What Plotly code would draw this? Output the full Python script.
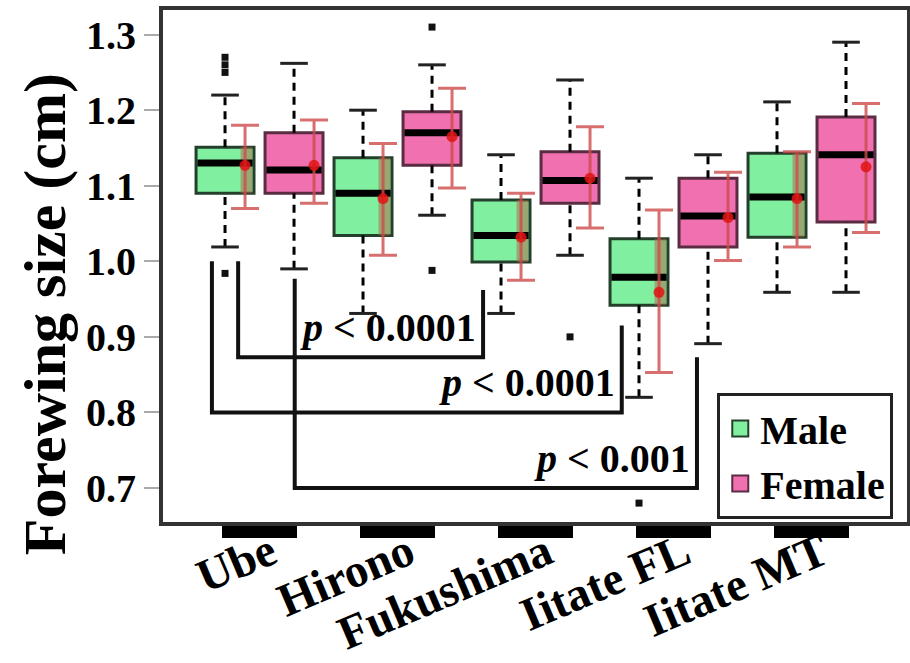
import plotly.graph_objects as go

# ---------------- data ----------------
groups = ["Ube", "Hirono", "Fukushima", "Iitate FL", "Iitate MT"]

male_lo   = [1.019, 0.931, 0.931, 0.820, 0.959]
male_q1   = [1.090, 1.034, 0.999, 0.942, 1.032]
male_med  = [1.130, 1.090, 1.034, 0.979, 1.085]
male_q3   = [1.151, 1.137, 1.081, 1.030, 1.143]
male_hi   = [1.220, 1.200, 1.141, 1.110, 1.211]
male_mean = [1.127, 1.083, 1.032, 0.959, 1.083]
male_etop = [1.180, 1.156, 1.090, 1.068, 1.145]
male_ebot = [1.070, 1.008, 0.975, 0.853, 1.019]
male_out  = [[1.27, 1.26, 1.25, 0.984], [], [], [0.68], []]

female_lo   = [0.990, 1.061, 1.008, 0.891, 0.959]
female_q1   = [1.090, 1.127, 1.077, 1.019, 1.052]
female_med  = [1.121, 1.170, 1.107, 1.060, 1.141]
female_q3   = [1.170, 1.198, 1.145, 1.110, 1.191]
female_hi   = [1.262, 1.260, 1.240, 1.141, 1.290]
female_mean = [1.127, 1.165, 1.110, 1.058, 1.125]
female_etop = [1.187, 1.229, 1.178, 1.118, 1.209]
female_ebot = [1.077, 1.097, 1.044, 1.001, 1.038]
female_out  = [[], [1.31, 0.988], [0.90], [], []]

# significance brackets (x in box-position units)
br_left      = [0.19, -0.19, 1.01]
br_right     = [3.74, 5.75, 6.84]
br_left_top  = [1.000, 1.000, 0.977]
br_right_top = [0.962, 0.915, 0.873]
br_level     = [0.873, 0.800, 0.700]
br_labels    = ["0.0001", "0.0001", "0.001"]

yticks = [0.7, 0.8, 0.9, 1.0, 1.1, 1.2, 1.3]

# ---------------- styling ----------------
SERIF = "Liberation Serif"
MALE_FILL, MALE_EDGE = "#80F0A0", "#24402C"
FEM_FILL, FEM_EDGE = "#F070B0", "#5A2C42"
BOX_HALF = 0.42

fig = go.Figure()


def add_sex(pos, lo, q1, med, q3, hi, mean, etop, ebot, outl, fill, edge, strip):
    fig.add_trace(go.Bar(
        x=pos, base=q1, y=[b - a for a, b in zip(q1, q3)], width=2 * BOX_HALF,
        marker=dict(color=fill, line=dict(color=edge, width=3)),
        showlegend=False, hoverinfo="skip"))
    if strip:
        fig.add_trace(go.Bar(
            x=[p + 0.31 for p in pos], base=q1, y=[b - a for a, b in zip(q1, q3)],
            width=0.17, marker=dict(color="rgba(175,95,70,0.5)", line=dict(width=0)),
            showlegend=False, hoverinfo="skip"))
    # whiskers
    wx, wy = [], []
    for p, l, a, b, h in zip(pos, lo, q1, q3, hi):
        wx += [p, p, None, p, p, None]
        wy += [b, h, None, l, a, None]
    fig.add_trace(go.Scatter(x=wx, y=wy, mode="lines",
                             line=dict(color="black", width=3, dash="8px,6px"),
                             showlegend=False, hoverinfo="skip"))
    # caps
    cx, cy = [], []
    for p, l, h in zip(pos, lo, hi):
        cx += [p - 0.2, p + 0.2, None, p - 0.2, p + 0.2, None]
        cy += [h, h, None, l, l, None]
    fig.add_trace(go.Scatter(x=cx, y=cy, mode="lines",
                             line=dict(color="#222", width=3),
                             showlegend=False, hoverinfo="skip"))
    # medians
    mx, my = [], []
    for p, m in zip(pos, med):
        mx += [p - BOX_HALF + 0.02, p + BOX_HALF - 0.02, None]
        my += [m, m, None]
    fig.add_trace(go.Scatter(x=mx, y=my, mode="lines",
                             line=dict(color="black", width=7),
                             showlegend=False, hoverinfo="skip"))
    # outliers
    ox, oy = [], []
    for p, vals in zip(pos, outl):
        for v in vals:
            ox.append(p)
            oy.append(v)
    fig.add_trace(go.Scatter(x=ox, y=oy, mode="markers",
                             marker=dict(symbol="square", size=7, color="#111"),
                             showlegend=False, hoverinfo="skip"))
    # mean +- error
    fig.add_trace(go.Scatter(
        x=[p + 0.29 for p in pos], y=mean, mode="markers",
        marker=dict(color="rgba(225,20,20,0.85)", size=11),
        error_y=dict(type="data", symmetric=False,
                     array=[t - m for t, m in zip(etop, mean)],
                     arrayminus=[m - b for m, b in zip(mean, ebot)],
                     color="rgba(205,75,75,0.8)", thickness=3, width=14),
        showlegend=False, hoverinfo="skip"))


male_pos = [2 * i for i in range(len(groups))]
female_pos = [2 * i + 1 for i in range(len(groups))]

add_sex(male_pos, male_lo, male_q1, male_med, male_q3, male_hi, male_mean,
        male_etop, male_ebot, male_out, MALE_FILL, MALE_EDGE, True)
add_sex(female_pos, female_lo, female_q1, female_med, female_q3, female_hi, female_mean,
        female_etop, female_ebot, female_out, FEM_FILL, FEM_EDGE, False)

# brackets
for l, r, lt, rt, lv, lab in zip(br_left, br_right, br_left_top, br_right_top, br_level, br_labels):
    fig.add_trace(go.Scatter(x=[l, l, r, r], y=[lt, lv, lv, rt], mode="lines",
                             line=dict(color="#111", width=4),
                             showlegend=False, hoverinfo="skip"))
    fig.add_annotation(x=r, y=lv, xref="x", yref="y", xanchor="right", yanchor="bottom",
                       xshift=-5, yshift=5, showarrow=False,
                       text="<i>p</i> < " + lab,
                       font=dict(family=SERIF, size=40, color="black", weight="bold"))

# legend proxies
fig.add_trace(go.Scatter(x=[None], y=[None], mode="markers", name="Male",
                         marker=dict(symbol="square", size=16, color=MALE_FILL,
                                     line=dict(color=MALE_EDGE, width=2))))
fig.add_trace(go.Scatter(x=[None], y=[None], mode="markers", name="Female",
                         marker=dict(symbol="square", size=16, color=FEM_FILL,
                                     line=dict(color=FEM_EDGE, width=2))))

# y-axis title
fig.add_annotation(x=-0.1586, y=0.406, xref="paper", yref="paper", showarrow=False,
                   xanchor="center", yanchor="middle",
                   text="Forewing size (cm)", textangle=-90,
                   font=dict(family=SERIF, size=60, color="black", weight="bold"))

fig.update_layout(
    width=910, height=663,
    margin=dict(l=163, r=3, t=10, b=141, autoexpand=False),
    paper_bgcolor="white", plot_bgcolor="white",
    barmode="overlay",
    legend=dict(x=0.745, y=0.252, xanchor="left", yanchor="top",
                bordercolor="#222", borderwidth=3, bgcolor="white",
                font=dict(family=SERIF, size=40, color="black", weight="bold"),
                itemsizing="trace", tracegroupgap=0),
    xaxis=dict(range=[-0.899, 9.884], tickvals=[2 * i + 0.5 for i in range(len(groups))],
               ticktext=groups, tickangle=-23, ticks="outside", ticklen=12, tickwidth=75,
               tickcolor="black", showline=True, linecolor="#333", linewidth=4, mirror=True,
               showgrid=False, zeroline=False, automargin=False,
               ticklabelstandoff=-31, ticklabelshift=11,
               tickfont=dict(family=SERIF, size=47, color="black", weight="bold")),
    yaxis=dict(range=[0.655, 1.3326], tickvals=yticks, ticktext=[f"{v:.1f}" for v in yticks],
               ticks="outside", ticklen=15, tickwidth=2, tickcolor="#aaa",
               showline=True, linecolor="#333", linewidth=4, mirror=True,
               showgrid=False, zeroline=False, automargin=False,
               tickfont=dict(family=SERIF, size=40, color="black", weight="bold")),
)

fig.write_html("out.html")
